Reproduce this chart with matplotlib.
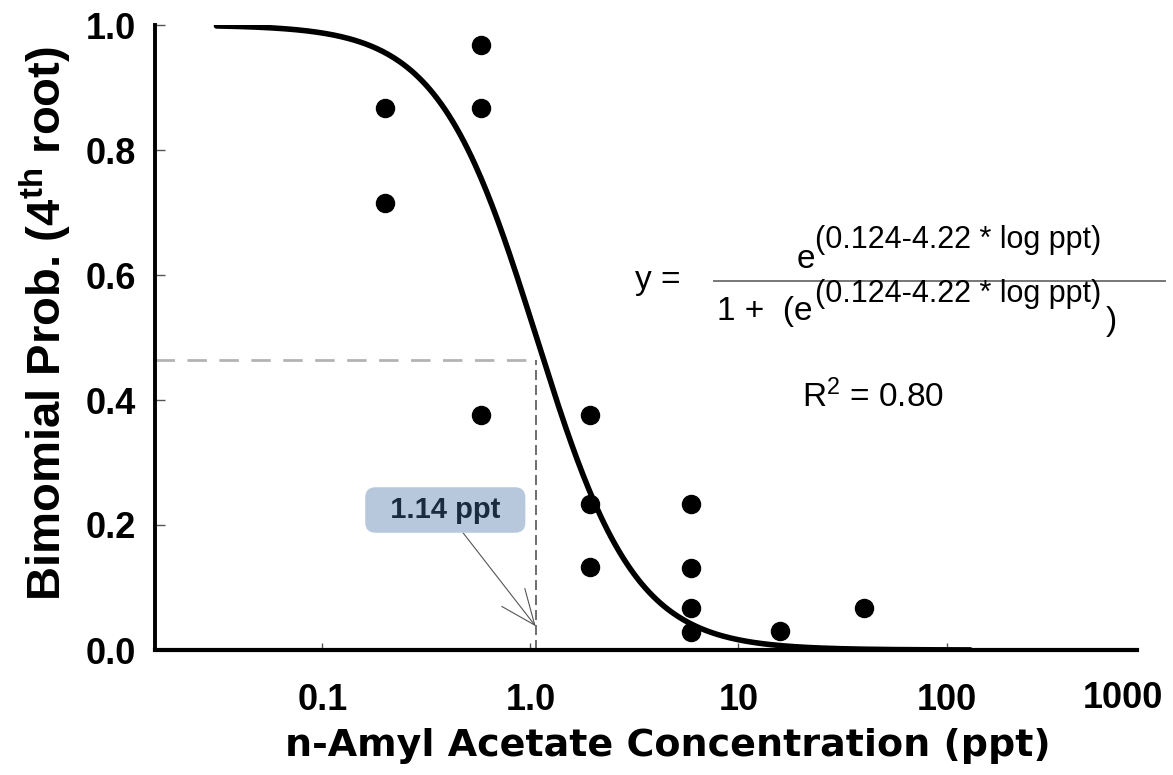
import numpy as np
import matplotlib
matplotlib.use('Agg')
import matplotlib.pyplot as plt
from matplotlib.lines import Line2D
from matplotlib.ticker import NullLocator, FixedLocator, FixedFormatter

plt.rcParams['font.family'] = ['Liberation Sans', 'DejaVu Sans']
plt.rcParams['mathtext.fontset'] = 'custom'
plt.rcParams['mathtext.rm'] = 'Liberation Sans'
plt.rcParams['mathtext.bf'] = 'Liberation Sans:bold'
plt.rcParams['mathtext.it'] = 'Liberation Sans:italic'

# data
conc = [0.2, 0.2, 0.58, 0.58, 0.58, 1.94, 1.94, 1.94,
        5.9, 5.9, 5.9, 5.9, 15.8, 40.0]
prob = [0.867, 0.715, 0.968, 0.867, 0.376, 0.376, 0.234, 0.133,
        0.234, 0.131, 0.067, 0.029, 0.030, 0.067]

# fitted logistic from the chart annotation
b0 = 0.124
b1 = -4.22
fit_min, fit_max = 0.031, 130.0

ec_x = 1.06        # where the dashed marker line sits
ec_y = 0.464
ec_label = '1.14 ppt'

xtick_vals = [0.1, 1.0, 10, 100]
xtick_labels = ['0.1', '1.0', '10', '100']
ytick_vals = [0.0, 0.2, 0.4, 0.6, 0.8, 1.0]

W, H = 1173, 775
fig = plt.figure(figsize=(W / 100., H / 100.), dpi=100)
ax = fig.add_axes([155. / W, 1 - 650. / H, 982. / W, 625. / H])

def px(x, y):
    return (x / float(W), 1 - y / float(H))

# curve
xf = np.logspace(np.log10(fit_min), np.log10(fit_max), 400)
ef = np.exp(b0 + b1 * np.log10(xf))
ax.plot(xf, ef / (1 + ef), color='k', lw=4.0, solid_capstyle='round', zorder=3)

# points
ax.plot(conc, prob, 'o', color='k', ms=13, zorder=4)

# dashed helper lines
ax.plot([10 ** -1.804, ec_x], [ec_y, ec_y], color='#b3b3b3', lw=2.0,
        dashes=(7, 4.5), zorder=2)
ax.plot([ec_x, ec_x], [0, ec_y], color='#555555', lw=1.2,
        dashes=(6, 3), zorder=2)

ax.annotate('  ' + ec_label + '  ', xy=(ec_x, 0.038), xytext=(0.39, 0.224),
            ha='center', va='center', fontsize=21, fontweight='bold',
            color='#1c2a40',
            bbox=dict(boxstyle='round,pad=0.3,rounding_size=0.35',
                      fc='#b8c8dc', ec='none'),
            arrowprops=dict(arrowstyle='->,head_length=1.2,head_width=0.5',
                            color='#555555', lw=0.8, shrinkA=0, shrinkB=0))

ax.set_xscale('log')
ax.set_xlim(10 ** -1.804, 10 ** 2.915)
ax.set_ylim(0, 1.0)
ax.xaxis.set_major_locator(FixedLocator(xtick_vals))
ax.xaxis.set_major_formatter(FixedFormatter(xtick_labels))
ax.xaxis.set_minor_locator(NullLocator())
ax.set_yticks(ytick_vals)
ax.set_yticklabels(['%.1f' % v for v in ytick_vals])

for side in ['top', 'right']:
    ax.spines[side].set_visible(False)
ax.spines['left'].set_linewidth(2.8)
ax.spines['bottom'].set_linewidth(3.0)

label_size = 26
ax.tick_params(axis='x', direction='in', length=5, width=1, color='#555555',
               pad=24, labelsize=label_size)
ax.tick_params(axis='y', direction='in', length=7, width=1, color='#555555',
               pad=14, labelsize=label_size)
for lab in ax.get_xticklabels() + ax.get_yticklabels():
    lab.set_fontweight('bold')

ax.annotate('1000', xy=(0.986, 0), xycoords='axes fraction',
            xytext=(0, -22), textcoords='offset points',
            ha='center', va='top', fontsize=label_size, fontweight='bold')

ax.set_xlabel('n-Amyl Acetate Concentration (ppt)', fontsize=27.4,
              fontweight='bold', family=['DejaVu Sans'])
ax.xaxis.set_label_coords(0.522, -0.124)
ax.set_ylabel(r'Bimomial Prob. (4$^{\mathbf{th}}$ root)', fontsize=34,
              fontweight='bold')
ax.yaxis.set_label_coords(-0.084, 0.523)

# equation block
eq_size = 24
sup_size = 22
sup = '(0.124-4.22 * log ppt)'
fig.text(*px(635, 289), 'y =', fontsize=eq_size, va='baseline')
fig.text(*px(797, 268), 'e', fontsize=eq_size, va='baseline')
fig.text(*px(815, 248), sup, fontsize=sup_size, va='baseline')
fig.add_artist(Line2D([714. / W, 1165. / W], [1 - 281. / H, 1 - 281. / H],
                      color='#777777', lw=1.4))
fig.text(*px(717, 320), '1 +  (e', fontsize=eq_size, va='baseline')
fig.text(*px(815, 302), sup, fontsize=sup_size, va='baseline')
fig.text(*px(1106, 330), ')', fontsize=eq_size, va='baseline')
fig.text(*px(802, 407), r'R$^\mathrm{2}$ = 0.80', fontsize=eq_size, va='baseline')

plt.savefig('out.png', dpi=100)
